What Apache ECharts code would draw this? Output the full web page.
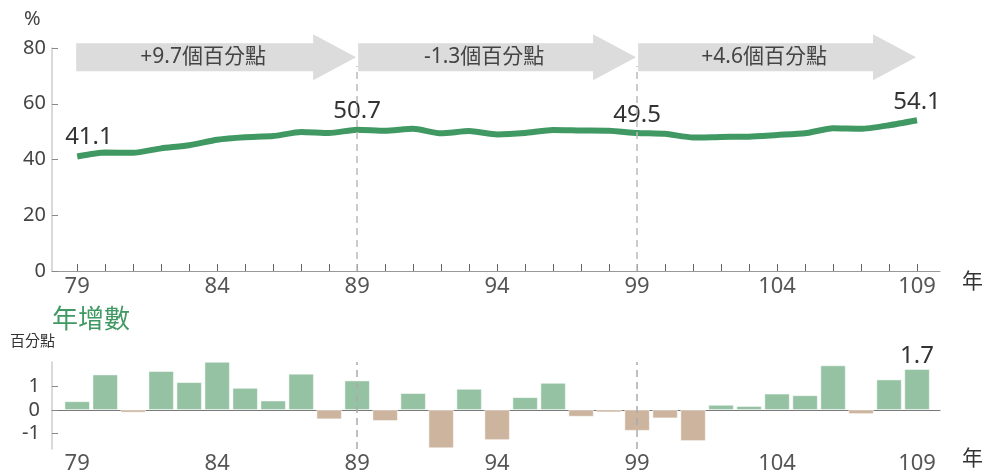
<!DOCTYPE html>
<html>
<head>
<meta charset="utf-8">
<script src="https://cdn.jsdelivr.net/npm/echarts@6/dist/echarts.min.js"></script>
<style>
  html, body { margin: 0; padding: 0; background: #fff; }
  #main { width: 987px; height: 476px; }
</style>
</head>
<body>
<div id="main"></div>
<script>
// 年度（民國）
var years = [79, 80, 81, 82, 83, 84, 85, 86, 87, 88, 89, 90, 91, 92, 93, 94,
             95, 96, 97, 98, 99, 100, 101, 102, 103, 104, 105, 106, 107, 108, 109];
// 比率 (%)
var rate = [41.1, 42.5, 42.4, 44.0, 45.1, 47.1, 48.0, 48.4, 49.9, 49.5, 50.7,
            50.3, 51.0, 49.4, 50.2, 49.0, 49.5, 50.6, 50.4, 50.3, 49.5,
            49.2, 47.9, 48.1, 48.2, 48.8, 49.4, 51.2, 51.0, 52.3, 54.1];
// 年增數 (百分點)
var change = [0.35, 1.47, -0.11, 1.61, 1.15, 2.0, 0.91, 0.38, 1.5, -0.39, 1.22,
              -0.46, 0.69, -1.6, 0.87, -1.26, 0.52, 1.12, -0.28, -0.1, -0.87,
              -0.35, -1.3, 0.2, 0.15, 0.67, 0.6, 1.85, -0.17, 1.26, 1.7];
var xTickLabels = [79, 84, 89, 94, 99, 104, 109];
var labelYears = [79, 89, 99, 109];
var dividerYears = [89, 99];
// 區間箭頭
var periodStart = [79, 89, 99];
var periodEnd = [89, 99, 109];
var periodText = ['+9.7個百分點', '-1.3個百分點', '+4.6個百分點'];

var FONT = '"Noto Sans", "Noto Sans CJK TC", sans-serif';
var GREEN = '#409862';

var myChart = echarts.init(document.getElementById('main'));

var lineData = years.map(function (y, i) {
  var item = { value: [y, rate[i]] };
  if (labelYears.indexOf(y) >= 0) {
    item.label = {
      show: true,
      position: y === 79 ? [-12, -31] : 'top',
      distance: 6,
      fontSize: 24, color: '#333', fontFamily: FONT
    };
  }
  return item;
});

var barData = years.map(function (y, i) {
  var item = { value: [y, change[i]] };
  if (y === 109) {
    item.label = { show: true, position: 'top', distance: 1, fontSize: 24, color: '#333', fontFamily: FONT };
  }
  return item;
});

var option = {
  animation: false,
  textStyle: { fontFamily: FONT },
  grid: [
    { left: 52, right: 47, top: 48, height: 223 },
    { left: 52, right: 47, top: 362, height: 87 }
  ],
  xAxis: [
    {
      type: 'value', gridIndex: 0, min: 78.1, max: 109.82,
      axisLine: { lineStyle: { color: '#999' } },
      axisTick: { inside: true, length: 7, lineStyle: { color: '#666' }, customValues: years },
      axisLabel: { customValues: xTickLabels, fontSize: 22, color: '#555', margin: 5 },
      splitLine: { show: false }
    },
    {
      type: 'value', gridIndex: 1, min: 78.1, max: 109.82,
      axisLine: { lineStyle: { color: '#777' } },
      axisTick: { show: false },
      axisLabel: { customValues: xTickLabels, fontSize: 22, color: '#555', margin: 4 },
      splitLine: { show: false }
    }
  ],
  yAxis: [
    {
      type: 'value', gridIndex: 0, min: 0, max: 80, interval: 20,
      axisLine: { show: true, lineStyle: { color: '#ccc', width: 1.5 } },
      axisTick: { show: true, inside: true, length: 6, lineStyle: { color: '#888' } },
      axisLabel: { fontSize: 20, color: '#444', margin: 6 },
      splitLine: { show: false }
    },
    {
      type: 'value', gridIndex: 1, min: -1.64, max: 2.0,
      axisLine: { show: true, lineStyle: { color: '#ccc', width: 1.5 } },
      axisTick: { show: true, inside: true, length: 6, lineStyle: { color: '#888' }, customValues: [-1, 0, 1] },
      axisLabel: { customValues: [-1, 0, 1], fontSize: 20, color: '#444', margin: 12 },
      splitLine: { show: false }
    }
  ],
  graphic: [
    { type: 'text', left: 24, top: 9, style: { text: '%', fontSize: 20, fill: '#444', fontFamily: FONT } },
    { type: 'text', left: 962, top: 272, style: { text: '年', fontSize: 21, fill: '#333', fontFamily: FONT } },
    { type: 'text', left: 962, top: 449, style: { text: '年', fontSize: 21, fill: '#333', fontFamily: FONT } },
    { type: 'text', left: 52, top: 308, style: { text: '年增數', fontSize: 26, fill: GREEN, fontFamily: FONT } },
    { type: 'text', left: 10, top: 334, style: { text: '百分點', fontSize: 15, fill: '#333', fontFamily: FONT } }
  ],
  series: [
    {
      type: 'custom',
      xAxisIndex: 0, yAxisIndex: 0,
      clip: false, z: 5, silent: true,
      data: periodStart.map(function (s, i) { return [s, periodEnd[i], 76.7]; }),
      renderItem: function (params, api) {
        var a = api.coord([api.value(0), api.value(2)]);
        var b = api.coord([api.value(1), api.value(2)]);
        var x0 = a[0] + (params.dataIndex > 0 ? 1 : -1), x1 = b[0] - 1, y = a[1];
        var head = 43, half = 14, headHalf = 23;
        return {
          type: 'group',
          children: [
            {
              type: 'polygon',
              shape: { points: [[x0, y - half], [x1 - head, y - half], [x1 - head, y - headHalf], [x1, y],
                                [x1 - head, y + headHalf], [x1 - head, y + half], [x0, y + half]] },
              style: { fill: '#dcdcdc' }
            },
            {
              type: 'text', x: (x0 + x1) / 2 - 13, y: y,
              style: { text: periodText[params.dataIndex], fontSize: 21, fill: '#444', fontFamily: FONT,
                       align: 'center', verticalAlign: 'middle' }
            }
          ]
        };
      }
    },
    {
      type: 'line',
      xAxisIndex: 0, yAxisIndex: 0,
      data: lineData,
      smooth: 0.2,
      showSymbol: true, symbol: 'circle', symbolSize: 0.1,
      lineStyle: { color: GREEN, width: 6 },
      itemStyle: { color: GREEN },
      labelLayout: { hideOverlap: false },
      z: 3,
      markLine: {
        silent: true, symbol: 'none', label: { show: false },
        lineStyle: { color: '#bbb', type: [7, 5], width: 1.5 },
        data: dividerYears.map(function (y) { return [{ coord: [y, 0] }, { coord: [y, 73.5] }]; })
      }
    },
    {
      type: 'bar',
      xAxisIndex: 1, yAxisIndex: 1,
      data: barData,
      barWidth: 25,
      itemStyle: {
        color: function (p) { return p.value[1] >= 0 ? '#94c2a2' : '#cdb49e'; },
        borderColor: '#fff', borderWidth: 0.5
      },
      markLine: {
        silent: true, symbol: 'none', label: { show: false },
        lineStyle: { color: '#aaa', type: [7, 5], width: 1.5 },
        data: dividerYears.map(function (y) { return { xAxis: y }; })
      }
    }
  ]
};

myChart.setOption(option);
</script>
</body>
</html>
